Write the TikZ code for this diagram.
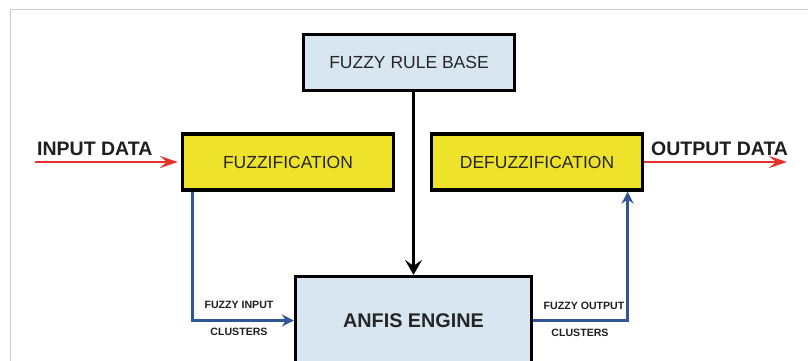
\documentclass[tikz,border=0pt]{standalone}
\usepackage{fontspec}
\setmainfont{Liberation Sans}
\usetikzlibrary{arrows.meta}
\definecolor{boxblue}{HTML}{D7E6F0}
\definecolor{boxyellow}{HTML}{EEE22B}
\definecolor{linkblue}{HTML}{2F5597}
\definecolor{datared}{HTML}{E8302A}
\definecolor{txt}{HTML}{262626}
\tikzset{
  blockbox/.style={draw=black, line width=3.2pt, inner sep=0pt, text=txt,
    font=\fontsize{17.5}{20}\selectfont},
  bluebox/.style={blockbox, fill=boxblue},
  yellowbox/.style={blockbox, fill=boxyellow, minimum width=211pt, minimum height=56pt},
  datalabel/.style={font=\bfseries\fontsize{19.5}{22}\selectfont, text=black!88, inner sep=0pt, anchor=west},
  smalllabel/.style={font=\bfseries\fontsize{10.6}{12}\selectfont, text=black!88, inner sep=0pt},
  redarrow/.style={draw=datared, line width=2.7pt, -{Stealth[length=18pt,width=12pt,inset=7pt]}},
  bluearrow/.style={draw=linkblue, line width=3pt, -{Stealth[length=12pt,width=12pt,inset=4pt]}},
  blackarrow/.style={draw=black, line width=3.3pt, -{Stealth[length=15pt,width=17pt,inset=6pt]}}
}
\begin{document}
\begin{tikzpicture}[x=1pt, y=-1pt]
\useasboundingbox (0,0) rectangle (808,361);
\clip (0,0) rectangle (808,361);
\fill[white] (0,0) rectangle (808,361);
% outer frame
\draw[black!20, line width=1pt] (10,361) -- (10,10) -- (808,10);

% blocks
\node[bluebox, minimum width=211pt, minimum height=56pt] (rule) at (409,62.5) {FUZZY RULE BASE};
\node[yellowbox] (fuzz) at (288,162) {FUZZIFICATION};
\node[yellowbox] (defuzz) at (537,162) {DEFUZZIFICATION};
\node[bluebox, minimum width=236pt, minimum height=88pt,
      font=\bfseries\fontsize{19.8}{22}\selectfont] (anfis) at (413.5,320.5) {ANFIS ENGINE};

% data in / out
\coordinate (inp) at (35,162);
\coordinate (outp) at (787,162);
\node[datalabel] (inlabel) at (37,149) {INPUT DATA};
\node[datalabel] (outlabel) at (651,149) {OUTPUT DATA};
\draw[redarrow, shorten >=3pt] (inp) -- (fuzz.west);
\draw[redarrow] (defuzz.east) -- (outp);

% rule base feeds the engine
\draw[blackarrow] (rule.south -| anfis.north) -- (anfis.north);

% fuzzy clusters
\draw[bluearrow] ([xshift=12pt]fuzz.south west) |- (anfis.west);
\draw[bluearrow] (anfis.east) -| ([xshift=-16.5pt]defuzz.south east);

\node[smalllabel] (fin) at (239,305) {FUZZY INPUT};
\node[smalllabel] (fincl) at (239,332) {CLUSTERS};
\node[smalllabel] (fout) at (584,306) {FUZZY OUTPUT};
\node[smalllabel] (foutcl) at (580,333) {CLUSTERS};
\end{tikzpicture}
\end{document}
